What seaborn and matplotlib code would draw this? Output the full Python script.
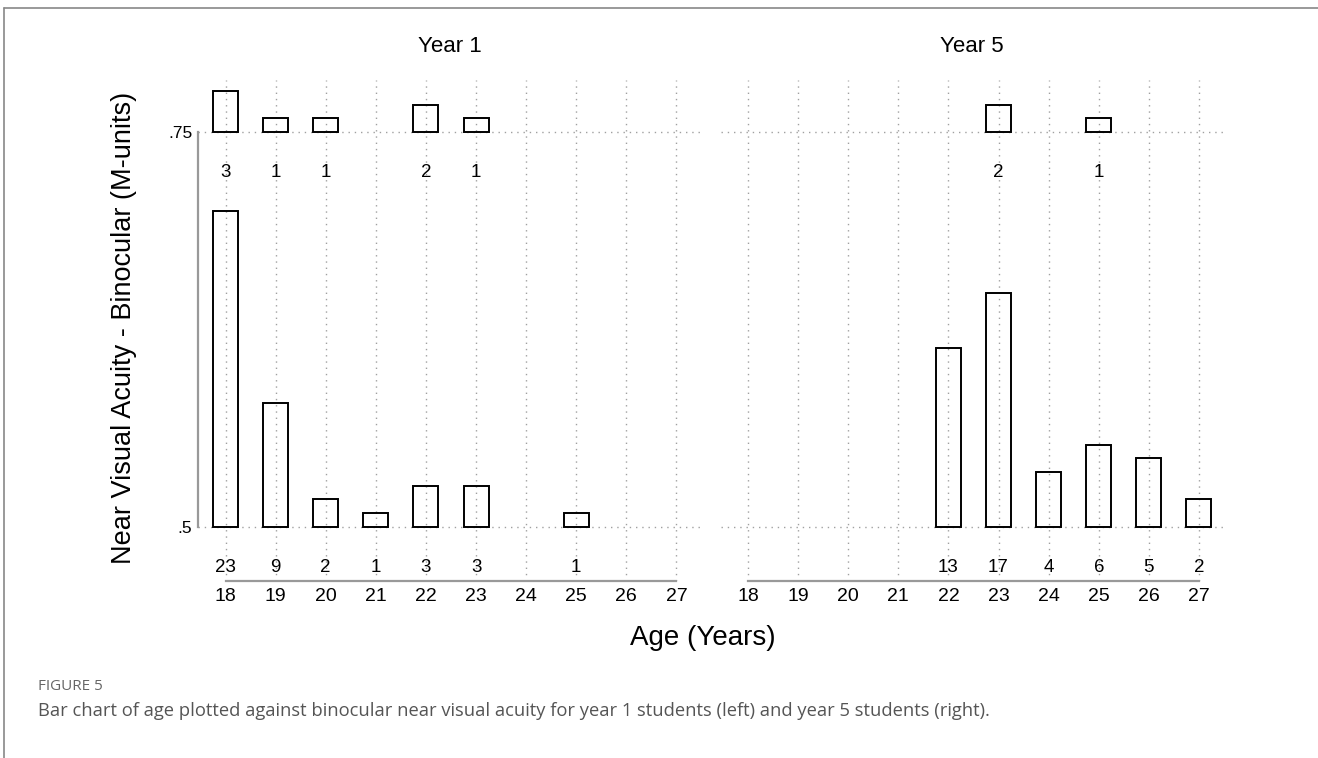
import pandas as pd
import matplotlib.pyplot as plt
from matplotlib.lines import Line2D
import seaborn as sns

sns.set_theme(style="white")
plt.rcParams["font.family"] = ["Liberation Sans", "DejaVu Sans"]
plt.rcParams["text.color"] = "black"
plt.rcParams["axes.labelcolor"] = "black"

# === Data (counts of students per age at each acuity level) ===
AGES = list(range(18, 28))
ACUITY_LEVELS = [0.5, 0.75]

YEAR1_AGES_050 = [18, 19, 20, 21, 22, 23, 25]
YEAR1_COUNTS_050 = [23, 9, 2, 1, 3, 3, 1]
YEAR1_AGES_075 = [18, 19, 20, 22, 23]
YEAR1_COUNTS_075 = [3, 1, 1, 2, 1]

YEAR5_AGES_050 = [22, 23, 24, 25, 26, 27]
YEAR5_COUNTS_050 = [13, 17, 4, 6, 5, 2]
YEAR5_AGES_075 = [23, 25]
YEAR5_COUNTS_075 = [2, 1]

PANELS = ["Year 1", "Year 5"]

rows = []
for year, level, ages, counts in [
    ("Year 1", 0.5, YEAR1_AGES_050, YEAR1_COUNTS_050),
    ("Year 1", 0.75, YEAR1_AGES_075, YEAR1_COUNTS_075),
    ("Year 5", 0.5, YEAR5_AGES_050, YEAR5_COUNTS_050),
    ("Year 5", 0.75, YEAR5_AGES_075, YEAR5_COUNTS_075),
]:
    for a, c in zip(ages, counts):
        rows.append({"year": year, "acuity": level, "age": a, "count": c})
df = pd.DataFrame(rows)

# tallest bar takes 80% of the gap between the two acuity levels
BAR_SCALE = 0.8 * (ACUITY_LEVELS[1] - ACUITY_LEVELS[0]) / df["count"].max()
GRID_COLOR = "#a0a0a0"
AXIS_COLOR = "#999999"


def draw_bars(data, **kws):
    ax = plt.gca()
    ax.bar(data["age"], data["count"] * BAR_SCALE, bottom=data["acuity"],
           width=0.5, facecolor="none", edgecolor="black", linewidth=1.4, zorder=3)
    for _, r in data.iterrows():
        ax.text(r["age"], r["acuity"] - 0.0257, str(int(r["count"])),
                ha="center", va="center", fontsize=13.5, color="black")


g = sns.FacetGrid(df, col="year", col_order=PANELS, sharex=True, sharey=True,
                  height=5, aspect=1)
g.map_dataframe(draw_bars)

fig = g.figure
fig.set_size_inches(13.18, 7.58)

for i, (ax, name) in enumerate(zip(g.axes.flat, PANELS)):
    ax.set_xlim(17.45, 27.5)
    ax.set_ylim(0.4658, 0.7829)
    ax.set_xticks(AGES)
    ax.set_xticklabels([str(a) for a in AGES])
    ax.set_yticks(ACUITY_LEVELS)
    ax.set_yticklabels([".5", ".75"])
    ax.grid(True, linestyle=(0, (1, 3.5)), color=GRID_COLOR, linewidth=1.0)
    ax.set_axisbelow(True)
    ax.tick_params(axis="x", length=0, pad=5, labelsize=14, colors="black")
    ax.tick_params(axis="y", length=0, pad=4, labelsize=12.5, colors="black")
    ax.set_xlabel("")
    ax.set_ylabel("")
    ax.set_title(name, fontsize=16, pad=20, color="black")
    for side in ["top", "right"]:
        ax.spines[side].set_visible(False)
    ax.spines["bottom"].set_visible(True)
    ax.spines["bottom"].set_bounds(AGES[0], AGES[-1])
    ax.spines["bottom"].set_color(AXIS_COLOR)
    ax.spines["bottom"].set_linewidth(1.6)
    if i == 0:
        ax.spines["left"].set_visible(True)
        ax.spines["left"].set_bounds(ACUITY_LEVELS[0], ACUITY_LEVELS[1])
        ax.spines["left"].set_color(AXIS_COLOR)
        ax.spines["left"].set_linewidth(1.6)
    else:
        ax.spines["left"].set_visible(False)
        ax.tick_params(axis="y", labelleft=False)

fig.subplots_adjust(left=198 / 1318, right=1224 / 1318,
                    top=1 - 80 / 758, bottom=1 - 581 / 758, wspace=0.0378)

# axis titles
fig.text(124 / 1318, 1 - 328 / 758, "Near Visual Acuity - Binocular (M-units)",
         rotation=90, ha="center", va="center", fontsize=19.5)
fig.text(703 / 1318, 1 - 638 / 758, "Age (Years)", ha="center", va="center", fontsize=20)

# caption
fig.text(38 / 1318, 1 - 686 / 758, "FIGURE 5", ha="left", va="center",
         fontsize=11, color="#666666", family=["Open Sans", "DejaVu Sans"])
fig.text(38 / 1318, 1 - 711 / 758,
         "Bar chart of age plotted against binocular near visual acuity for year 1 students (left) and year 5 students (right).",
         ha="left", va="center", fontsize=13.2, color="#555555", family=["Open Sans", "DejaVu Sans"])

# page frame
fig.add_artist(Line2D([4 / 1318, 1], [1 - 8 / 758, 1 - 8 / 758], transform=fig.transFigure,
                      color="#888888", linewidth=1.2))
fig.add_artist(Line2D([4 / 1318, 4 / 1318], [0, 1 - 8 / 758], transform=fig.transFigure,
                      color="#888888", linewidth=1.2))

fig.savefig("out.png", dpi=100)
plt.close(fig)
